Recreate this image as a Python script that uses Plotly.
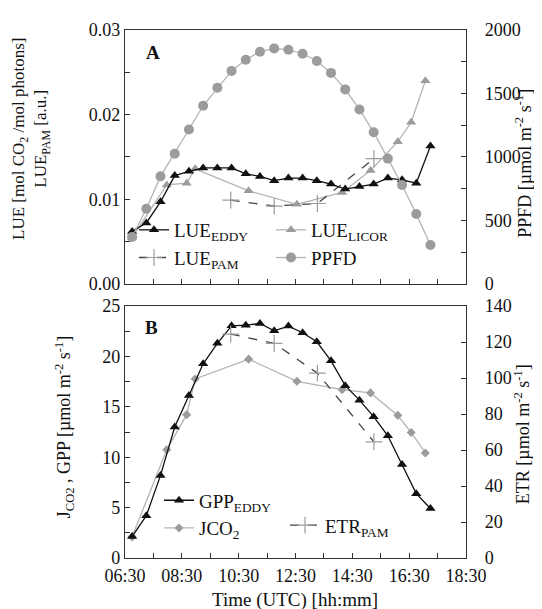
import plotly.graph_objects as go
from plotly.subplots import make_subplots

# half-hourly eddy covariance times (decimal hours UTC)
t_eddy = [6.75, 7.25, 7.75, 8.25, 8.75, 9.25, 9.75, 10.25, 10.75, 11.25, 11.75,
          12.25, 12.75, 13.25, 13.75, 14.25, 14.75, 15.25, 15.75, 16.25, 16.75, 17.25]
lue_eddy = [0.0062, 0.0072, 0.0097, 0.0128, 0.0133, 0.0137, 0.0137, 0.0137, 0.0130, 0.0127, 0.0122,
            0.0125, 0.0125, 0.0122, 0.0118, 0.0112, 0.0115, 0.0118, 0.0125, 0.0123, 0.0119, 0.0163]
ppfd = [369, 592, 847, 1026, 1216, 1403, 1545, 1678, 1766, 1829, 1855,
        1844, 1813, 1756, 1662, 1532, 1374, 1195, 987, 779, 551, 306]
gpp_eddy = [2.13, 4.20, 8.20, 13.01, 16.13, 19.28, 21.31, 23.05, 23.11, 23.28, 22.56,
            23.02, 22.36, 21.47, 19.57, 17.11, 15.67, 14.03, 12.13, 9.28, 6.39, 4.92]

t_licor = [6.75, 7.97, 8.67, 8.97, 10.85, 12.55, 14.14, 15.14, 16.10, 16.57, 17.07]
lue_licor = [0.0055, 0.0117, 0.0119, 0.0136, 0.0110, 0.0094, 0.0108, 0.0134, 0.0168, 0.0191, 0.0240]
jco2 = [2.1, 10.75, 14.23, 17.77, 19.74, 17.54, 16.72, 16.39, 14.16, 12.46, 10.43]

t_pam = [10.22, 11.75, 13.27, 15.26]
lue_pam = [0.0099, 0.0092, 0.0095, 0.0148]
etr_pam = [124.5, 119.3, 102.8, 64.6]

x_tickvals = [6.5, 8.5, 10.5, 12.5, 14.5, 16.5, 18.5]
x_ticktext = ["06:30", "08:30", "10:30", "12:30", "14:30", "16:30", "18:30"]

W, H = 542, 609
ML, MR, MT, MB = 117, 84, 17, 59


def fx(px):
    return (px - ML) / (W - ML - MR)


def fy(py):
    return (H - MB - py) / (H - MT - MB)


FONT = "Liberation Serif"
BLACK = "#111111"
GRAY_LINE = "#b4b4b4"
GRAY_MARK = "#9c9c9c"
PAM = "#444444"

fig = make_subplots(rows=2, cols=1, specs=[[{"secondary_y": True}], [{"secondary_y": True}]])

# panel A
fig.add_trace(go.Scatter(x=t_eddy, y=ppfd, name="PPFD", mode="lines+markers",
                         line=dict(color=GRAY_LINE, width=1.3),
                         marker=dict(symbol="circle", size=10, color=GRAY_MARK),
                         legend="legend2"), row=1, col=1, secondary_y=True)
fig.add_trace(go.Scatter(x=t_licor, y=lue_licor, name="LUE<sub>LICOR</sub>", mode="lines+markers",
                         line=dict(color=GRAY_LINE, width=1.3),
                         marker=dict(symbol="triangle-up", size=9, color=GRAY_MARK),
                         legend="legend2"), row=1, col=1)
fig.add_trace(go.Scatter(x=t_pam, y=lue_pam, name="LUE<sub>PAM</sub>", mode="lines+markers",
                         line=dict(color=PAM, width=1.3, dash="dash"),
                         marker=dict(symbol="cross-thin-open", size=12, color=GRAY_MARK,
                                     line=dict(color=GRAY_MARK, width=1.2)),
                         legend="legend"), row=1, col=1)
fig.add_trace(go.Scatter(x=t_eddy, y=lue_eddy, name="LUE<sub>EDDY</sub>", mode="lines+markers",
                         line=dict(color=BLACK, width=1.3),
                         marker=dict(symbol="triangle-up", size=9, color=BLACK),
                         legend="legend"), row=1, col=1)

# panel B
fig.add_trace(go.Scatter(x=t_licor, y=jco2, name="JCO<sub>2</sub>", mode="lines+markers",
                         line=dict(color=GRAY_LINE, width=1.3),
                         marker=dict(symbol="diamond", size=7, color=GRAY_MARK),
                         legend="legend3"), row=2, col=1)
fig.add_trace(go.Scatter(x=t_pam, y=etr_pam, name="ETR<sub>PAM</sub>", mode="lines+markers",
                         line=dict(color=PAM, width=1.3, dash="dash"),
                         marker=dict(symbol="cross-thin-open", size=12, color=GRAY_MARK,
                                     line=dict(color=GRAY_MARK, width=1.2)),
                         legend="legend4"), row=2, col=1, secondary_y=True)
fig.add_trace(go.Scatter(x=t_eddy, y=gpp_eddy, name="GPP<sub>EDDY</sub>", mode="lines+markers",
                         line=dict(color=BLACK, width=1.3),
                         marker=dict(symbol="triangle-up", size=9, color=BLACK),
                         legend="legend3"), row=2, col=1)

axis_common = dict(showline=True, linecolor="#333333", linewidth=1.2, ticks="inside",
                   tickcolor="#333333", ticklen=5, showgrid=False, zeroline=False,
                   tickfont=dict(family=FONT, size=18, color="#111111"))

dom_a = [fy(273.3), 1.0]
dom_b = [0.0, fy(295.8)]

fig.update_layout(
    xaxis=dict(axis_common, domain=[0, 1], range=[6.5, 18.5], tickvals=x_tickvals,
               ticktext=x_ticktext, showticklabels=False, mirror=True,
               minor=dict(ticks="inside", dtick=1, tick0=6.5, ticklen=5, tickcolor="#333333")),
    xaxis2=dict(axis_common, domain=[0, 1], range=[6.5, 18.5], tickvals=x_tickvals,
                ticktext=x_ticktext, mirror=True, ticklabelstandoff=1,
                minor=dict(ticks="inside", dtick=1, tick0=6.5, ticklen=5, tickcolor="#333333")),
    yaxis=dict(axis_common, domain=dom_a, range=[0, 0.03], dtick=0.01, tickformat=".2f",
               minor=dict(ticks="inside", dtick=0.005, ticklen=5, tickcolor="#333333")),
    yaxis2=dict(axis_common, range=[0, 2000], dtick=500, ticklabelstandoff=14,
                minor=dict(ticks="inside", dtick=250, ticklen=5, tickcolor="#333333")),
    yaxis3=dict(axis_common, domain=dom_b, range=[0, 25], dtick=5,
                minor=dict(ticks="inside", dtick=2.5, ticklen=5, tickcolor="#333333")),
    yaxis4=dict(axis_common, range=[0, 140], dtick=20, ticklabelstandoff=14),
)

leg_common = dict(bgcolor="rgba(0,0,0,0)", font=dict(family=FONT, size=19, color="#111111"),
                  xanchor="left", yanchor="middle", tracegroupgap=0, itemwidth=30,
                  traceorder="reversed")
fig.update_layout(
    legend=dict(leg_common, x=fx(126), y=fy(233)),
    legend2=dict(leg_common, x=fx(263), y=fy(233)),
    legend3=dict(leg_common, x=fx(151), y=fy(506)),
    legend4=dict(leg_common, x=fx(277), y=fy(517)),
)

title_font = dict(family=FONT, size=19, color="#111111")
annotations = [
    dict(text="<b>A</b>", x=fx(145), y=fy(40)),
    dict(text="<b>B</b>", x=fx(143), y=fy(317)),
    dict(text="LUE [mol CO<sub>2</sub> /mol photons]<br>LUE<sub>PAM</sub> [a.u.]",
         x=fx(23), y=fy(127), textangle=-90, font=dict(family=FONT, size=17, color="#111111")),
    dict(text="PPFD [µmol m<sup>-2</sup> s<sup>-1</sup>]", x=fx(516), y=fy(152), textangle=-90,
         font=dict(family=FONT, size=18, color="#111111")),
    dict(text="J<sub>CO2</sub> , GPP [µmol m<sup>-2</sup> s<sup>-1</sup>]",
         x=fx(56), y=fy(418), textangle=-90, font=dict(family=FONT, size=18, color="#111111")),
    dict(text="ETR [µmol m<sup>-2</sup> s<sup>-1</sup>]", x=fx(514), y=fy(425), textangle=-90,
         font=dict(family=FONT, size=18, color="#111111")),
    dict(text="Time (UTC) [hh:mm]", x=fx(287), y=fy(592)),
]
for a in annotations:
    a.update(xref="paper", yref="paper", showarrow=False, xanchor="center", yanchor="middle")
    a.setdefault("font", title_font)

fig.update_layout(
    width=W, height=H, margin=dict(l=ML, r=MR, t=MT, b=MB),
    paper_bgcolor="white", plot_bgcolor="white",
    font=dict(family=FONT, size=18, color="#111111"),
    annotations=annotations,
)

fig.write_html("out.html")
